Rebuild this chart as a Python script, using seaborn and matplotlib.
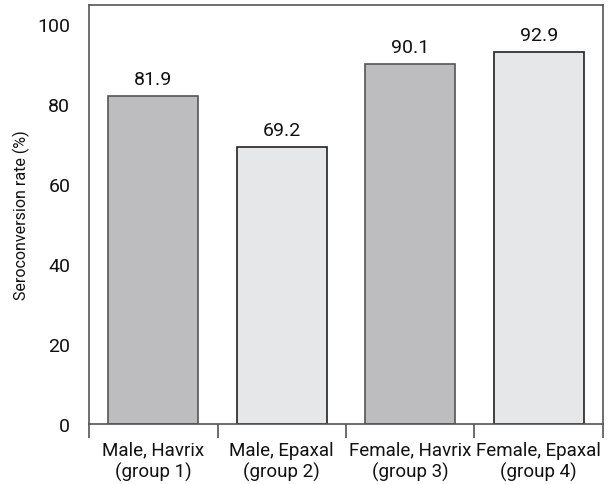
import matplotlib
matplotlib.use("Agg")
from matplotlib import pyplot as plt
from matplotlib.ticker import FixedLocator
import pandas as pd
import seaborn as sns

# data
groups = ["Male, Havrix\n(group 1)", "Male, Epaxal\n(group 2)",
          "Female, Havrix\n(group 3)", "Female, Epaxal\n(group 4)"]
rates = [81.9, 69.2, 90.1, 92.9]
vaccine = ["Havrix", "Epaxal", "Havrix", "Epaxal"]

df = pd.DataFrame({"group": groups, "rate": rates, "vaccine": vaccine})

sns.set_style("white")
plt.rcParams['font.family'] = ['Roboto', 'DejaVu Sans']
plt.rcParams['text.color'] = '#111111'

fig = plt.figure(figsize=(6.14, 4.85), dpi=100)
ax = fig.add_axes([0.145, 0.1237, 0.837, 0.864])

palette = {"Havrix": "#bcbdc0", "Epaxal": "#e6e7e8"}
sns.barplot(data=df, x="group", y="rate", hue="vaccine", palette=palette,
            width=0.7, dodge=False, legend=False, ax=ax, linewidth=1.2)

# darker outline on the light bars, grey outline on the dark ones
edges = {"Havrix": "#555555", "Epaxal": "#222222"}
for patch in ax.patches:
    i = int(round(patch.get_x() + patch.get_width() / 2))
    patch.set_edgecolor(edges[vaccine[i]])

for i, r in enumerate(rates):
    ax.text(i, r + 2, f"{r}", ha="center", va="bottom", fontsize=14, color="#111111")

ax.set_xlim(-0.5, 3.5)
ax.set_ylim(0, 104.75)
ax.set_yticks([0, 20, 40, 60, 80, 100])
ax.set_ylabel("Seroconversion rate (%)", fontsize=11.5, color="#111111", labelpad=5)
ax.set_xlabel("")

ax.xaxis.set_minor_locator(FixedLocator([-0.5, 0.5, 1.5, 2.5, 3.5]))
ax.tick_params(axis="x", which="major", length=0, labelsize=13.5, pad=12, colors="#111111")
ax.tick_params(axis="x", which="minor", length=10, width=1.2, color="#555555", bottom=True)
ax.tick_params(axis="y", length=10, width=1.2, color="#555555", labelsize=14, labelcolor="#111111")

for s in ax.spines.values():
    s.set_color("#555555")
    s.set_linewidth(1.2)

plt.savefig("out.png", dpi=100)
plt.close()
